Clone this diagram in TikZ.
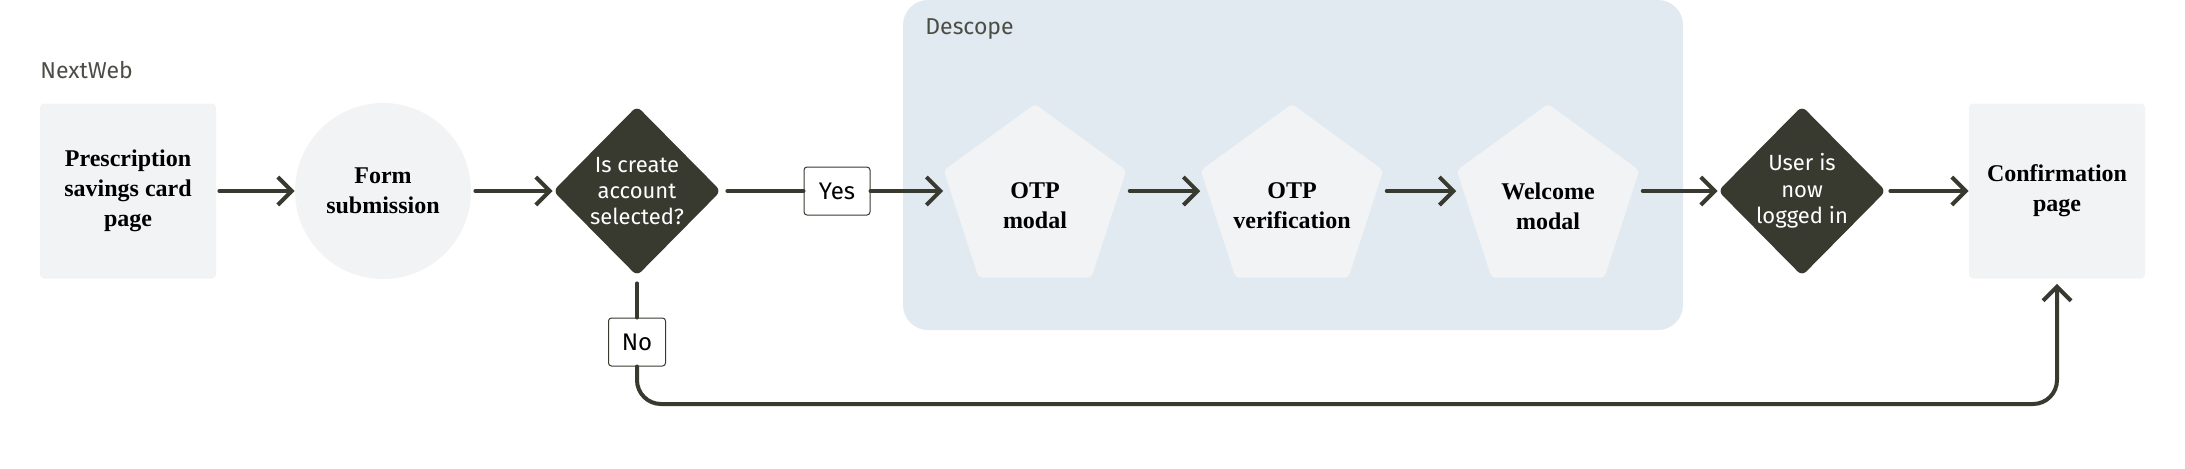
\documentclass[tikz,border=0pt]{standalone}
\usepackage{fontspec}
\setmainfont{Liberation Serif}
\setsansfont{Fira Sans}
\usepackage{tikz}
\usetikzlibrary{shapes.geometric,arrows.meta,positioning}
\definecolor{ink}{HTML}{383A30}
\definecolor{paper}{HTML}{F2F3F5}
\definecolor{zone}{HTML}{E1E9F1}

\begin{document}
\begin{tikzpicture}[x=0.5pt, y=-0.5pt,
            every node/.style = {align=center, inner sep=0pt},
            page/.style = {shape=rectangle, rounded corners=2pt, fill=paper,
                                minimum width=88pt, minimum height=87.5pt,
                                font=\fontsize{12}{15}\selectfont\bfseries},
            form/.style = {shape=circle, fill=paper, minimum size=88pt,
                                font=\fontsize{12}{15}\selectfont\bfseries},
            screen/.style = {regular polygon, regular polygon sides=5,
                                minimum size=96pt, rounded corners=2pt, fill=paper},
            screentext/.style = {font=\fontsize{12}{15}\selectfont\bfseries},
            choice/.style = {shape=diamond, aspect=1, rounded corners=3pt,
                                fill=ink, text=white,
                                minimum width=84pt, minimum height=85pt,
                                font=\sffamily\fontsize{11}{13.2}\selectfont},
            tag/.style = {shape=rectangle, draw=ink, line width=0.5pt, fill=white,
                                rounded corners=1.5pt, minimum height=24pt,
                                font=\sffamily\fontsize{12}{14}\selectfont},
            group/.style = {anchor=west, text=ink!90,
                                font=\sffamily\fontsize{11.5}{13}\selectfont},
            flow/.style = {draw=ink, line width=2pt, line cap=round},
            go/.style = {flow, -{Straight Barb[length=7pt, width=14pt]}}]
    \useasboundingbox (0,0) rectangle (2185,468);
    \node[fill=zone, rounded corners=12.5pt, minimum width=390pt,
          minimum height=165pt] (descope) at (1293,165) {};
    \node[group] (descopelabel) at (925,29) {Descope};
    \node[group] (nextweblabel) at (40,70) {NextWeb};

    \node[page] (card) at (128,191) {Prescription\\savings card\\page};
    \node[form] (submit) at (383,191) {Form\\submission};
    \node[choice] (create) at (637,191) {Is create\\account\\selected?};
    \node[tag, minimum width=33pt] (yes) at (837,191) {Yes};
    \node[screen] (otpmodal) at (1035,200) {};
    \node[screen] (otpcheck) at (1292,200) {};
    \node[screen] (welcome) at (1548,200) {};
    \node[screentext] (otpmodaltext) at ([yshift=-3pt]otpmodal.center) {OTP\\modal};
    \node[screentext] (otpchecktext) at ([yshift=-3pt]otpcheck.center) {OTP\\verification};
    \node[screentext] (welcometext) at ([yshift=-3pt]welcome.center) {Welcome\\modal};
    \node[choice] (loggedin) at (1802,191) {User is\\now\\logged in};
    \node[page] (confirm) at (2057,191) {Confirmation\\page};
    \node[tag, minimum width=28.5pt] (no) at (637,342) {No};
    \coordinate (back) at (2057,404);

    \draw[go, shorten <=1.5pt] (card) -- (submit);
    \draw[go, shorten <=2pt] (submit) -- (create);
    \draw[flow, shorten <=3pt] (create) -- (yes);
    \draw[go] (yes) -- (yes -| otpmodal.corner 2);
    \draw[go, shorten <=1.5pt] (otpmodal.corner 5 |- yes) -- (otpcheck.corner 2 |- yes);
    \draw[go, shorten <=1.5pt] (otpcheck.corner 5 |- yes) -- (welcome.corner 2 |- yes);
    \draw[go, shorten <=1.5pt] (welcome.corner 5 |- yes) -- (loggedin);
    \draw[go, shorten <=2pt] (loggedin) -- (confirm);
    \draw[flow, shorten <=3.5pt] (create) -- (no);
    \draw[go, rounded corners=12pt, shorten >=2.5pt] (no.south) |- (back) -- (confirm.south);
\end{tikzpicture}
\end{document}
